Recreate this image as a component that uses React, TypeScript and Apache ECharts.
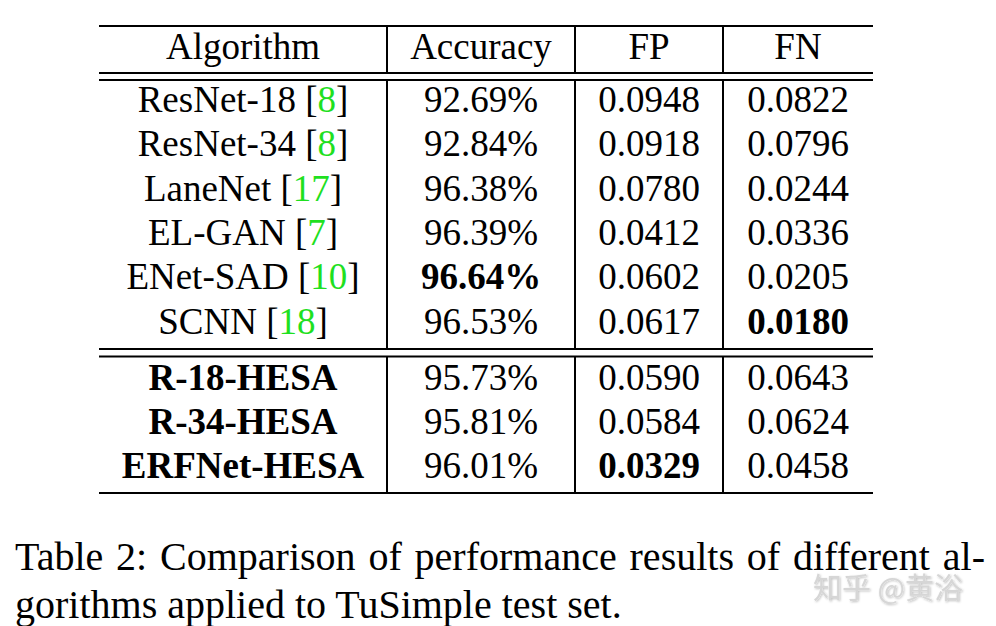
import React, { useEffect, useRef } from "react";
import * as echarts from "echarts";

const headers = ["Algorithm", "Accuracy", "FP", "FN"];
const algorithms = ["ResNet-18", "ResNet-34", "LaneNet", "EL-GAN", "ENet-SAD", "SCNN", "R-18-HESA", "R-34-HESA", "ERFNet-HESA"];
const refs = ["8", "8", "17", "7", "10", "18", "", "", ""];
const accuracy = ["92.69%", "92.84%", "96.38%", "96.39%", "96.64%", "96.53%", "95.73%", "95.81%", "96.01%"];
const fpValues = ["0.0948", "0.0918", "0.0780", "0.0412", "0.0602", "0.0617", "0.0590", "0.0584", "0.0329"];
const fnValues = ["0.0822", "0.0796", "0.0244", "0.0336", "0.0205", "0.0180", "0.0643", "0.0624", "0.0458"];
const boldAlgo = [false, false, false, false, false, false, true, true, true];
const boldAcc = [false, false, false, false, true, false, false, false, false];
const boldFp = [false, false, false, false, false, false, false, false, true];
const boldFn = [false, false, false, false, false, true, false, false, false];
const captionLines = [
  "Table 2: Comparison of performance results of different al-",
  "gorithms applied to TuSimple test set.",
];
const watermark = "知乎 @黄浴";

export default function App() {
  const ref = useRef<HTMLDivElement>(null);
  useEffect(() => {
    document.body.style.margin = "0";
    const chart = echarts.init(ref.current!, null, { renderer: "svg" });
    const FAMILY = "Liberation Serif";
    const FS = 37;
    const colX = [243, 481, 649, 798];
    const vLines = [387, 575, 723];
    const left = 99, right = 873;
    const yTop = 26, yH1 = 73, yH2 = 80, yM1 = 349, yM2 = 356.5, yBot = 493;
    const rowY = [99, 143.5, 188, 232, 276.5, 321, 377, 421, 465];
    const headerY = 46;
    const els: any[] = [];
    const hline = (y: number) => els.push({ type: "line", shape: { x1: left, y1: y, x2: right, y2: y }, style: { stroke: "#000", lineWidth: 2 } });
    const vline = (x: number, y1: number, y2: number) => els.push({ type: "line", shape: { x1: x, y1, x2: x, y2 }, style: { stroke: "#000", lineWidth: 2 } });
    [yTop, yH1, yH2, yM1, yM2, yBot].forEach(hline);
    vLines.forEach((x) => {
      vline(x, yTop, yH1);
      vline(x, yH2, yM1);
      vline(x, yM2, yBot);
    });
    const txt = (x: number, y: number, s: string, bold: boolean) =>
      els.push({
        type: "text",
        x, y,
        style: { text: s, fontFamily: FAMILY, fontSize: FS, fontWeight: bold ? "bold" : "normal", fill: "#000", align: "center", verticalAlign: "middle" },
      });
    headers.forEach((h, i) => txt(colX[i], headerY, h, false));
    algorithms.forEach((a, i) => {
      const y = rowY[i];
      if (refs[i]) {
        els.push({
          type: "text",
          x: colX[0], y,
          style: {
            text: `{n|${a} [}{g|${refs[i]}}{n|]}`,
            align: "center",
            verticalAlign: "middle",
            rich: {
              n: { fontFamily: FAMILY, fontSize: FS, fill: "#000", color: "#000" },
              g: { fontFamily: FAMILY, fontSize: FS, fill: "#1fe01f", color: "#1fe01f" },
            },
          },
        });
      } else {
        txt(colX[0], y, a, boldAlgo[i]);
      }
      txt(colX[1], y, accuracy[i], boldAcc[i]);
      txt(colX[2], y, fpValues[i], boldFp[i]);
      txt(colX[3], y, fnValues[i], boldFn[i]);
    });
    // caption: first line justified between capLeft and capRight
    const CFS = 40;
    const capLeft = 15, capRight = 985;
    const cv = document.createElement("canvas").getContext("2d")!;
    cv.font = `${CFS}px "${FAMILY}"`;
    const words = captionLines[0].split(" ");
    const widths = words.map((w) => cv.measureText(w).width);
    const total = widths.reduce((a, b) => a + b, 0);
    const gap = (capRight - capLeft - total) / (words.length - 1);
    let cx = capLeft;
    words.forEach((w, i) => {
      els.push({
        type: "text",
        x: cx, y: 556,
        style: { text: w, fontFamily: FAMILY, fontSize: CFS, lineHeight: 30, fill: "#000", align: "left", verticalAlign: "middle" },
      });
      cx += widths[i] + gap;
    });
    els.push({
      type: "text",
      x: capLeft, y: 604,
      style: { text: captionLines[1], fontFamily: FAMILY, fontSize: CFS, lineHeight: 30, fill: "#000", align: "left", verticalAlign: "middle" },
    });
    els.push({
      type: "text",
      x: 813, y: 586, z: 10,
      style: {
        text: watermark,
        fontFamily: "Noto Sans CJK SC",
        fontSize: 29,
        lineHeight: 26,
        fill: "#d6d6d6",
        align: "left",
        verticalAlign: "middle",
        textShadowColor: "rgba(0,0,0,0.25)",
        textShadowBlur: 2,
        textShadowOffsetX: 1,
        textShadowOffsetY: 1,
      },
    });
    chart.setOption({ animation: false, backgroundColor: "#fff", graphic: { elements: els } });
    return () => chart.dispose();
  }, []);
  return <div ref={ref} style={{ width: 996, height: 626 }} />;
}
